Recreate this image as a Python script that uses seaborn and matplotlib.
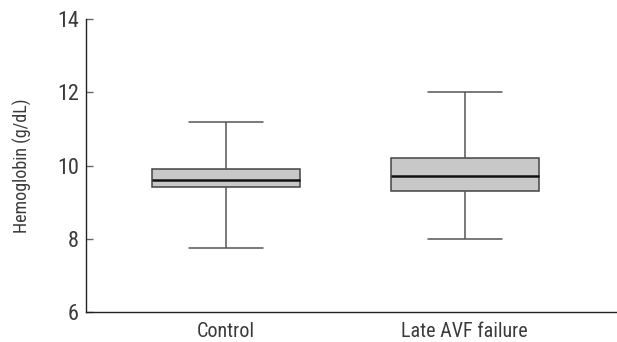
import numpy as np
import pandas as pd
import seaborn as sns
import matplotlib.pyplot as plt

# valores (mín, Q1, mediana, Q3, máx)
grupos = ['Control', 'Late AVF failure']
controle = [7.75, 9.4, 9.6, 9.9, 11.2]
falha_tardia = [8.0, 9.3, 9.72, 10.2, 12.0]
yticks = [6, 8, 10, 12, 14]

df = pd.DataFrame({
    'grupo': [grupos[0]] * len(controle) + [grupos[1]] * len(falha_tardia),
    'hb': controle + falha_tardia,
})

sns.set_style('ticks')
plt.rcParams['font.family'] = ['Roboto Condensed', 'Liberation Sans Narrow', 'Roboto', 'DejaVu Sans']

fig = plt.figure(figsize=(6.17, 3.42), dpi=100)
ax = fig.add_axes([0.139, 0.088, 0.861, 0.856])

sns.boxplot(data=df, x='grupo', y='hb', ax=ax, whis=(0, 100), width=0.62,
            color='#c8c8c8', linecolor='#444444', linewidth=1.1, saturation=1,
            medianprops={'color': '#111111', 'linewidth': 1.8},
            whiskerprops={'color': '#555555', 'linewidth': 1.1},
            capprops={'color': '#555555', 'linewidth': 1.1},
            capwidths=0.31)

ax.set_ylim(6, 14)
ax.set_xlim(-0.588, 1.639)
ax.set_yticks(yticks)
ax.set_xlabel('')
ax.set_ylabel('Hemoglobin (g/dL)', fontsize=13, color='#3a3a3a', labelpad=18)
ax.tick_params(axis='y', direction='in', length=5, width=1, colors='#666666',
               labelsize=16, labelcolor='#3a3a3a', pad=5)
ax.tick_params(axis='x', length=0, labelsize=14.5, labelcolor='#3a3a3a', pad=7)
sns.despine(ax=ax)
for s in ['left', 'bottom']:
    ax.spines[s].set_color('#222222')
    ax.spines[s].set_linewidth(1)

plt.savefig('out.png', dpi=100)
